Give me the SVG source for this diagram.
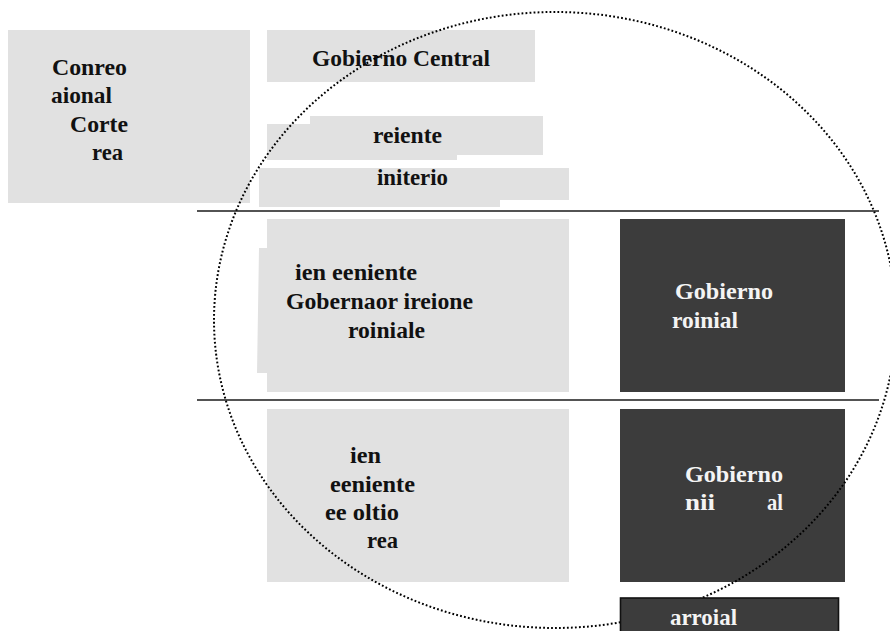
<svg xmlns="http://www.w3.org/2000/svg" width="890" height="631" viewBox="0 0 890 631">
<style>
.lt{fill:#e1e1e1}
.dk{fill:#3c3c3c}
.t{font-family:"Liberation Serif","Times New Roman",serif;font-size:24px;font-weight:bold;fill:#111}
.w{fill:#f4f4f4}
.sep{stroke:#1a1a1a;stroke-width:1.6}
.ring{fill:none;stroke:#000;stroke-width:2;stroke-dasharray:1.8 2.2}
</style>
<rect width="890" height="631" fill="#fff"/>
<g id="congreso">
<rect class="lt" x="8" y="30" width="242" height="173"/>
<text class="t" x="52" y="75" textLength="75" lengthAdjust="spacingAndGlyphs">Conreo</text>
<text class="t" x="51" y="103" textLength="61" lengthAdjust="spacingAndGlyphs">aional</text>
<text class="t" x="70" y="132" textLength="58" lengthAdjust="spacingAndGlyphs">Corte</text>
<text class="t" x="92" y="160" textLength="31" lengthAdjust="spacingAndGlyphs">rea</text>
</g>
<g id="gobierno-central">
<rect class="lt" x="267" y="30" width="268" height="52"/>
<text class="t" x="312" y="66" textLength="178" lengthAdjust="spacingAndGlyphs">Gobierno Central</text>
</g>
<g id="presidente">
<polygon class="lt" points="310,116 543,116 543,155 457,155 457,160 267,160 267,124 310,124"/>
<text class="t" x="373" y="143" textLength="69" lengthAdjust="spacingAndGlyphs">reiente</text>
</g>
<g id="ministerio">
<polygon class="lt" points="259,168 569,168 569,200 500,200 500,207 259,207"/>
<text class="t" x="377" y="185" textLength="71" lengthAdjust="spacingAndGlyphs">initerio</text>
</g>
<g id="regional-delegate">
<polygon class="lt" points="267,219 569,219 569,392 267,392 267,373 257,373 259,248 267,248"/>
<text class="t" x="295" y="280" textLength="122" lengthAdjust="spacingAndGlyphs">ien eeniente</text>
<text class="t" x="286" y="309" textLength="187" lengthAdjust="spacingAndGlyphs">Gobernaor ireione</text>
<text class="t" x="348" y="338" textLength="77" lengthAdjust="spacingAndGlyphs">roiniale</text>
</g>
<g id="gobierno-provincial">
<rect class="dk" x="620" y="219" width="225" height="173"/>
<text class="t w" x="675" y="299" textLength="98" lengthAdjust="spacingAndGlyphs">Gobierno</text>
<text class="t w" x="672" y="328" textLength="66" lengthAdjust="spacingAndGlyphs">roinial</text>
</g>
<g id="local-delegate">
<rect class="lt" x="267" y="409" width="302" height="173"/>
<text class="t" x="350" y="463" textLength="31" lengthAdjust="spacingAndGlyphs">ien</text>
<text class="t" x="330" y="492" textLength="85" lengthAdjust="spacingAndGlyphs">eeniente</text>
<text class="t" x="325" y="520" textLength="74" lengthAdjust="spacingAndGlyphs">ee oltio</text>
<text class="t" x="367" y="548" textLength="31" lengthAdjust="spacingAndGlyphs">rea</text>
</g>
<g id="gobierno-municipal">
<rect class="dk" x="620" y="409" width="225" height="173"/>
<text class="t w" x="685" y="482" textLength="98" lengthAdjust="spacingAndGlyphs">Gobierno</text>
<text class="t w" y="510"><tspan x="685" textLength="30" lengthAdjust="spacingAndGlyphs">nii</tspan><tspan x="767" textLength="16" lengthAdjust="spacingAndGlyphs">al</tspan></text>
</g>
<g id="connectors">
<line class="sep" x1="197" y1="211" x2="879" y2="211"/>
<line class="sep" x1="197" y1="400" x2="879" y2="400"/>
<ellipse class="ring" cx="555" cy="320" rx="341" ry="308"/>
</g>
<g id="desarrollo">
<rect class="dk" x="620.5" y="598" width="218" height="40" stroke="#111" stroke-width="1.6"/>
<text class="t w" x="670" y="625" textLength="67" lengthAdjust="spacingAndGlyphs">arroial</text>
</g>
</svg>
